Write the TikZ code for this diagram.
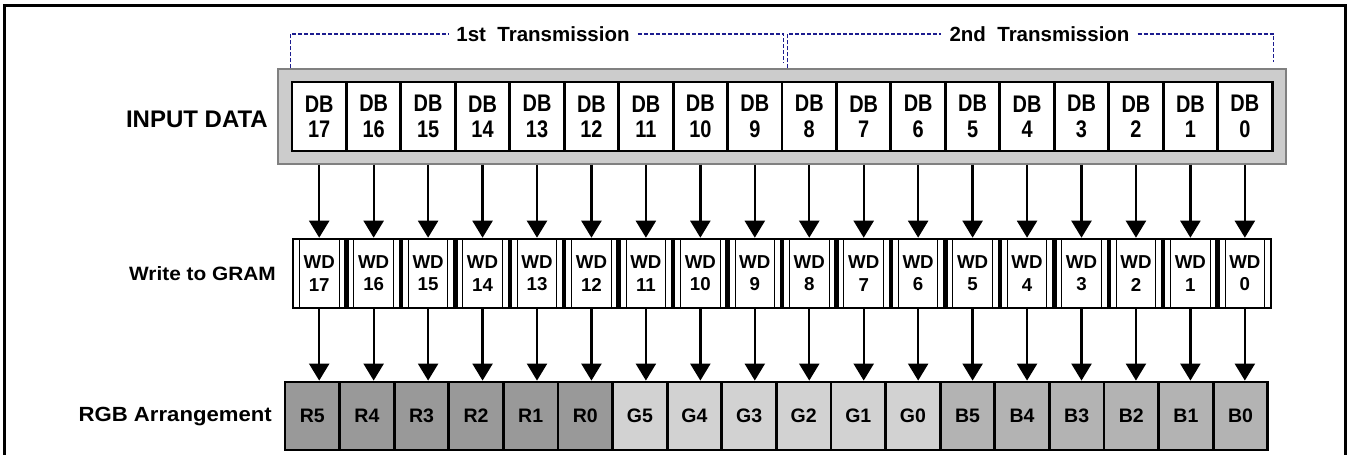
\documentclass[tikz,border=0pt]{standalone}
\usepackage{fontspec}
\setmainfont{Liberation Sans}
\newfontfamily\narrowfont[FakeStretch=0.83]{Liberation Sans}
\newfontfamily\widefont[FakeStretch=1.08]{Liberation Sans}
\usetikzlibrary{arrows.meta,calc}
\definecolor{redbit}{HTML}{999999}
\definecolor{greenbit}{HTML}{D2D2D2}
\definecolor{bluebit}{HTML}{B3B3B3}
\definecolor{framegray}{HTML}{CCCCCC}
\definecolor{dashblue}{HTML}{1C1C8F}
\tikzset{
  dbcell/.style={draw, line width=2.9pt, fill=white, inner sep=0pt,
    minimum width=54.45pt, minimum height=69pt, align=center,
    font=\narrowfont\bfseries\fontsize{24}{25.3}\selectfont},
  wdcell/.style={draw, line width=2.6pt, fill=white, inner sep=0pt,
    minimum width=52.6pt, minimum height=69pt, align=center,
    font=\bfseries\fontsize{18.7}{22.3}\selectfont,
    path picture={
      \draw[line width=1pt] ([xshift=6.5pt]path picture bounding box.south west)
        -- ([xshift=6.5pt]path picture bounding box.north west);
      \draw[line width=1pt] ([xshift=-6.5pt]path picture bounding box.south east)
        -- ([xshift=-6.5pt]path picture bounding box.north east);
    }},
  rgbcell/.style={draw, line width=2.8pt, inner sep=0pt,
    minimum width=54.6pt, minimum height=68pt,
    font=\bfseries\fontsize{19.5}{22}\selectfont},
  bus/.style={-{Triangle[width=20pt,length=17pt]}, line width=2.3pt},
  trans/.style={dashblue, dash pattern=on 4pt off 2pt, line width=1.3pt},
}

\begin{document}
\begin{tikzpicture}[x=1pt, y=-1pt]
\useasboundingbox (0,0) rectangle (1353,455);
% outer frame, open at the bottom
\draw[line width=2.8pt] (4.7,470) -- (4.7,5.8) -- (1345.5,5.8) -- (1345.5,470);

% row labels
\node[anchor=base east, inner sep=0pt, font=\bfseries\fontsize{24}{26}\selectfont] (inlabel) at (268,127.3) {INPUT DATA};
\node[anchor=base east, inner sep=0pt, font=\widefont\bfseries\fontsize{19.3}{22}\selectfont] (wdlabel) at (276,280) {Write to GRAM};
\node[anchor=base east, inner sep=0pt, font=\widefont\bfseries\fontsize{20.5}{22}\selectfont] (rgblabel) at (272,421.7) {RGB Arrangement};

% input data
\node[draw=gray, line width=1.2pt, fill=framegray, minimum width=1008pt, minimum height=95pt] (inbox) at (782,116.5) {};
\foreach \n [count=\k from 0] in {17,16,...,0} {
  \node[dbcell] (db\n) at (319.2+\k*54.45,116.5) {DB\\\n};
  \node[wdcell] (wd\n) at (319.2+\k*54.45,273.5) {WD\\\n};
}

% RGB arrangement
\foreach \lab/\col [count=\k from 0] in {R5/redbit,R4/redbit,R3/redbit,R2/redbit,R1/redbit,R0/redbit,
    G5/greenbit,G4/greenbit,G3/greenbit,G2/greenbit,G1/greenbit,G0/greenbit,
    B5/bluebit,B4/bluebit,B3/bluebit,B2/bluebit,B1/bluebit,B0/bluebit}
  \node[rgbcell, fill=\col] (rgb\k) at (312.3+\k*54.6,416) {\lab};

% arrows
\foreach \n [count=\k from 0] in {17,16,...,0} {
  \draw[bus] (db\n.south |- inbox.south) -- (wd\n.north);
  \draw[bus] (wd\n.south) -- (wd\n.south |- rgb\k.north);
}

% transmissions
\node[font=\bfseries\fontsize{20.5}{22}\selectfont, inner xsep=8pt] (first) at (543,34) {1st\ \ Transmission};
\node[font=\bfseries\fontsize{20.5}{22}\selectfont, inner xsep=8pt] (second) at (1039.5,34) {2nd\ \ Transmission};
\draw[trans] (db17.west |- inbox.north) |- (first.west);
\draw[trans, shorten >=6pt] (first.east) -| (db9.east |- inbox.north);
\draw[trans] ($(db8.west |- inbox.north)+(7,0)$) |- (second.west);
\draw[trans, shorten >=6pt] (second.east) -| (db0.east |- inbox.north);
\end{tikzpicture}
\end{document}
